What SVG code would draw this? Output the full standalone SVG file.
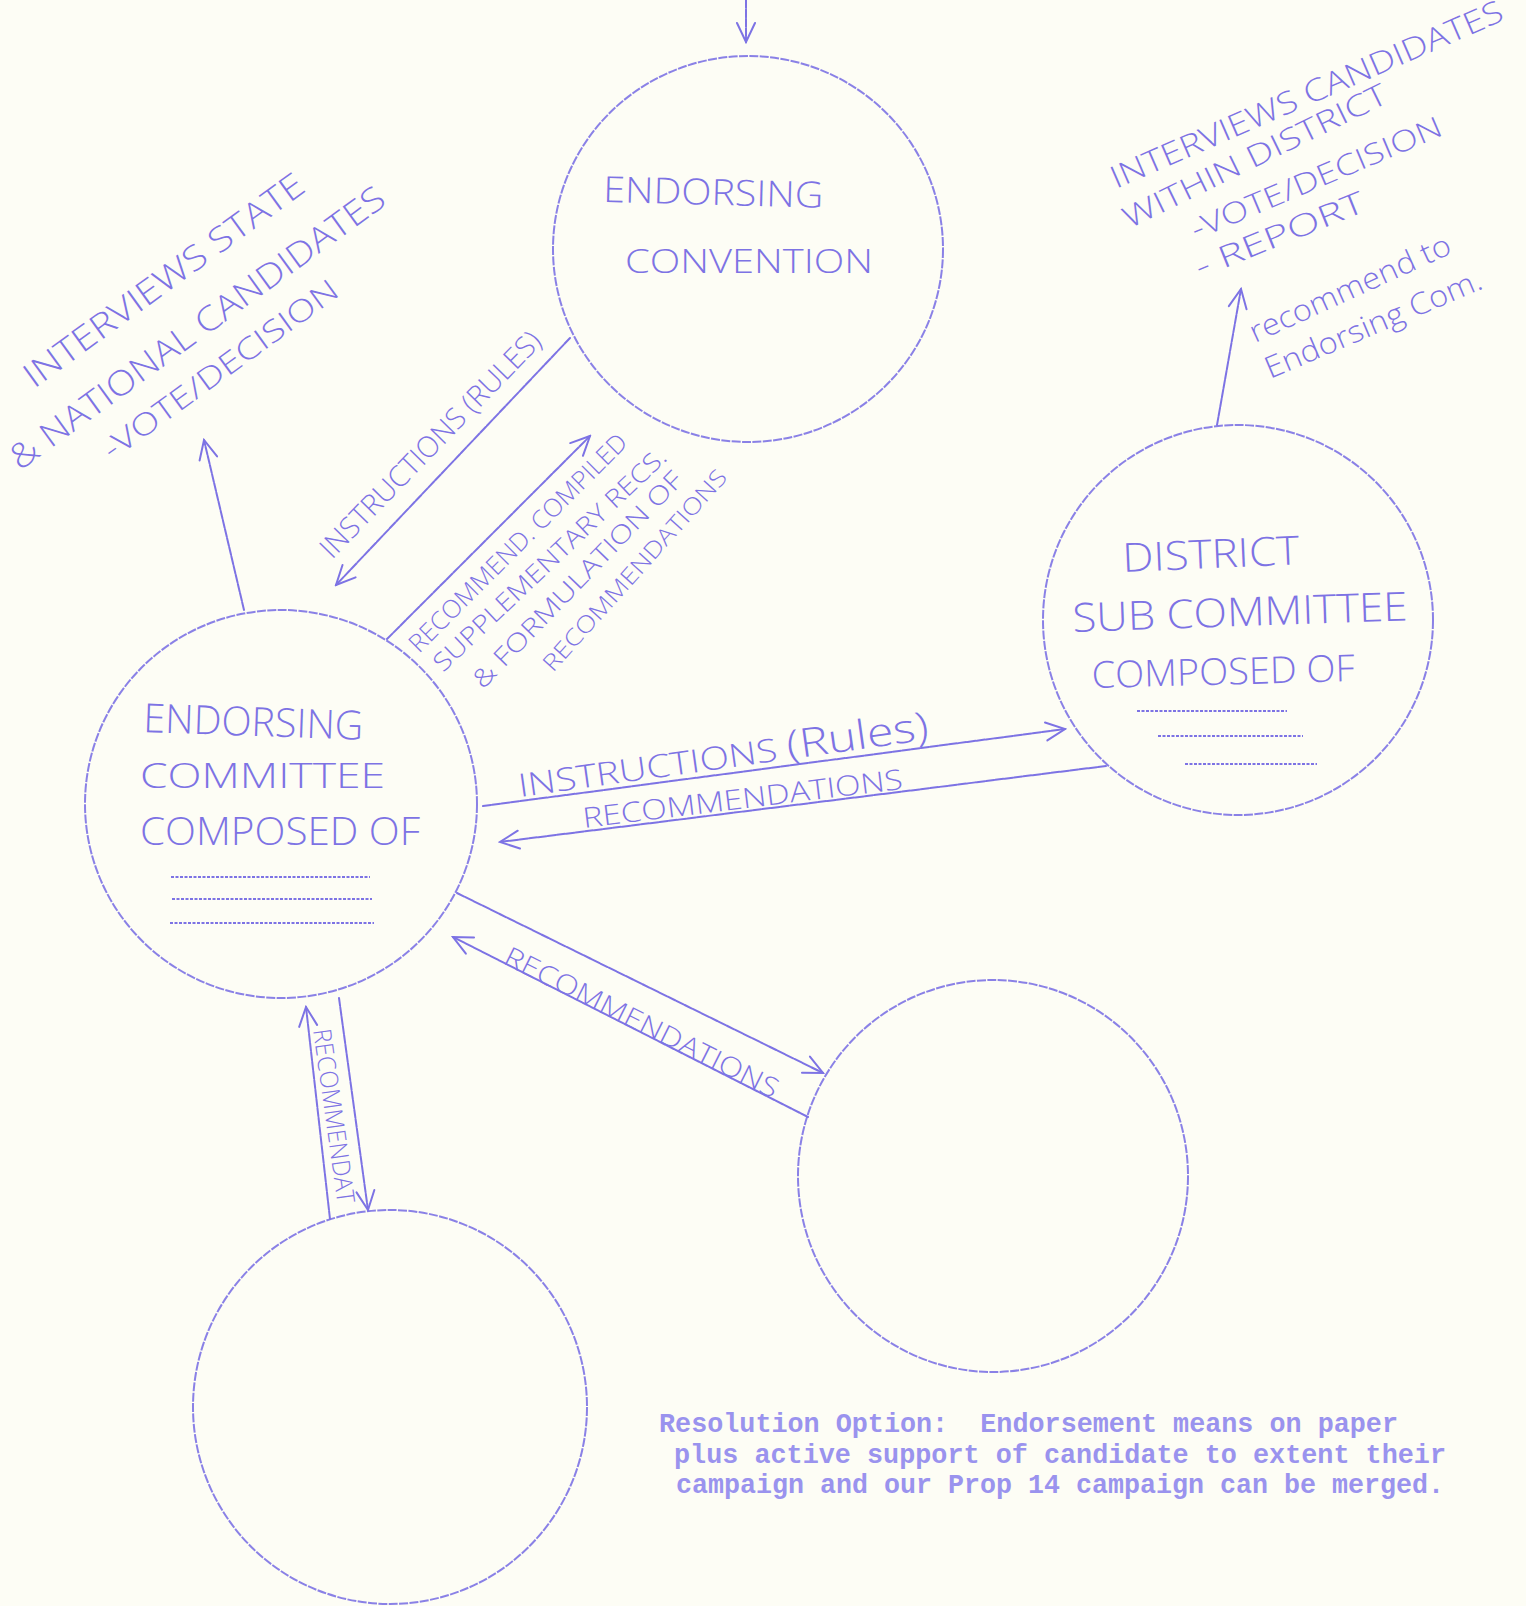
<svg xmlns="http://www.w3.org/2000/svg" width="1526" height="1606" viewBox="0 0 1526 1606">
<style>
.bg{fill:#fdfdf5}
.ink{fill:none;stroke:#7d73e4;stroke-width:2;stroke-linecap:round;stroke-dasharray:8 1.4}
.circ{fill:none;stroke:#7d73e4;stroke-width:2;stroke-dasharray:9 1.4;opacity:.9}
.hw{fill:#7d73e4;font-family:"Open Sans","DejaVu Sans",sans-serif;font-weight:300}
.rule{fill:none;stroke:#7d73e4;stroke-width:2.2;stroke-dasharray:3 1.5}
.typed{fill:#9a93ee;font-family:"Liberation Mono","DejaVu Sans Mono",monospace;font-size:26.8px;font-weight:bold;white-space:pre}
</style>
<defs>
<marker id="v" viewBox="0 0 24 24" refX="22" refY="12" markerWidth="24" markerHeight="24" markerUnits="userSpaceOnUse" orient="auto">
<path d="M3,3 L22,12 L3,21" fill="none" stroke="#7d73e4" stroke-width="2" stroke-linecap="round"/>
</marker>
</defs>
<rect class="bg" x="0" y="0" width="1526" height="1606"/>

<g id="node-endorsing-convention">
<ellipse class="circ" cx="748" cy="249" rx="195" ry="193"/>
<text class="hw" font-size="36" transform="translate(603,202) rotate(1.5)" textLength="220" lengthAdjust="spacingAndGlyphs">ENDORSING</text>
<text class="hw" font-size="33" x="625" y="273" textLength="248" lengthAdjust="spacingAndGlyphs">CONVENTION</text>
</g>

<g id="node-endorsing-committee">
<ellipse class="circ" cx="281" cy="804" rx="196" ry="194"/>
<text class="hw" font-size="40" transform="translate(143,732) rotate(2)" textLength="220" lengthAdjust="spacingAndGlyphs">ENDORSING</text>
<text class="hw" font-size="35" x="140" y="788" textLength="245" lengthAdjust="spacingAndGlyphs">COMMITTEE</text>
<text class="hw" font-size="38" x="140" y="845" textLength="280" lengthAdjust="spacingAndGlyphs">COMPOSED OF</text>
<line class="rule" x1="171" y1="877" x2="370" y2="877"/>
<line class="rule" x1="172" y1="899" x2="372" y2="899"/>
<line class="rule" x1="170" y1="923" x2="374" y2="923"/>
</g>

<g id="node-district-sub-committee">
<ellipse class="circ" cx="1238" cy="620" rx="195" ry="195"/>
<text class="hw" font-size="40" transform="translate(1123,572) rotate(-2.5)" textLength="177" lengthAdjust="spacingAndGlyphs">DISTRICT</text>
<text class="hw" font-size="40" transform="translate(1073,632) rotate(-2)" textLength="335" lengthAdjust="spacingAndGlyphs">SUB COMMITTEE</text>
<text class="hw" font-size="37" transform="translate(1092,688) rotate(-1.5)" textLength="263" lengthAdjust="spacingAndGlyphs">COMPOSED OF</text>
<line class="rule" x1="1137" y1="711" x2="1287" y2="711"/>
<line class="rule" x1="1158" y1="736" x2="1303" y2="736"/>
<line class="rule" x1="1185" y1="764" x2="1317" y2="764"/>
</g>

<g id="node-bottom-right">
<ellipse class="circ" cx="993" cy="1176" rx="195" ry="196"/>
</g>

<g id="node-bottom-left">
<ellipse class="circ" cx="390" cy="1407" rx="197" ry="197"/>
</g>

<g id="connectors">
<line class="ink" x1="746" y1="0" x2="746" y2="42" marker-end="url(#v)"/>
<line class="ink" x1="244" y1="610" x2="204" y2="440" marker-end="url(#v)"/>
<line class="ink" x1="1217" y1="425" x2="1241" y2="289" marker-end="url(#v)"/>
<line class="ink" x1="570" y1="338" x2="336" y2="585" marker-end="url(#v)"/>
<line class="ink" x1="387" y1="639" x2="590" y2="436" marker-end="url(#v)"/>
<line class="ink" x1="483" y1="806" x2="1065" y2="729" marker-end="url(#v)"/>
<line class="ink" x1="1106" y1="766" x2="500" y2="842" marker-end="url(#v)"/>
<line class="ink" x1="457" y1="893" x2="823" y2="1073" marker-end="url(#v)"/>
<line class="ink" x1="808" y1="1117" x2="453" y2="937" marker-end="url(#v)"/>
<line class="ink" x1="330" y1="1219" x2="306" y2="1007" marker-end="url(#v)"/>
<line class="ink" x1="339" y1="998" x2="368" y2="1210" marker-end="url(#v)"/>

<text class="hw" font-size="29" transform="translate(332,560) rotate(-45.8)" textLength="303" lengthAdjust="spacingAndGlyphs">INSTRUCTIONS (RULES)</text>
<text class="hw" font-size="25" transform="translate(419,654) rotate(-45)" textLength="297" lengthAdjust="spacingAndGlyphs">RECOMMEND. COMPILED</text>
<text class="hw" font-size="25" transform="translate(443,673) rotate(-43.5)" textLength="311" lengthAdjust="spacingAndGlyphs">SUPPLEMENTARY RECS.</text>
<text class="hw" font-size="25" transform="translate(483,690) rotate(-46)" textLength="290" lengthAdjust="spacingAndGlyphs">&amp; FORMULATION OF</text>
<text class="hw" font-size="23" transform="translate(553,673) rotate(-48)" textLength="262" lengthAdjust="spacingAndGlyphs">RECOMMENDATIONS</text>
<text class="hw" font-size="32" transform="translate(520,797) rotate(-8)" textLength="414" lengthAdjust="spacingAndGlyphs">INSTRUCTIONS <tspan font-size="40">(Rules)</tspan></text>
<text class="hw" font-size="28" transform="translate(584,828) rotate(-7)" textLength="322" lengthAdjust="spacingAndGlyphs">RECOMMENDATIONS</text>
<text class="hw" font-size="27" transform="translate(502,963) rotate(26.6)" textLength="303" lengthAdjust="spacingAndGlyphs">RECOMMENDATIONS</text>
<text class="hw" font-size="25" transform="translate(313,1030) rotate(82)" textLength="176" lengthAdjust="spacingAndGlyphs">RECOMMENDAT</text>
</g>

<g id="note-state-national">
<text class="hw" font-size="34" transform="translate(34,389) rotate(-36)" textLength="338" lengthAdjust="spacingAndGlyphs">INTERVIEWS STATE</text>
<text class="hw" font-size="34" transform="translate(20,471) rotate(-36)" textLength="455" lengthAdjust="spacingAndGlyphs">&amp; NATIONAL CANDIDATES</text>
<text class="hw" font-size="30" transform="translate(112,461) rotate(-36)" textLength="283" lengthAdjust="spacingAndGlyphs">-VOTE/DECISION</text>
</g>

<g id="note-district">
<text class="hw" font-size="31" transform="translate(1116,189) rotate(-23.5)" textLength="425" lengthAdjust="spacingAndGlyphs">INTERVIEWS CANDIDATES</text>
<text class="hw" font-size="30" transform="translate(1129,229) rotate(-26)" textLength="290" lengthAdjust="spacingAndGlyphs">WITHIN DISTRICT</text>
<text class="hw" font-size="29" transform="translate(1196,240) rotate(-23)" textLength="270" lengthAdjust="spacingAndGlyphs">-VOTE/DECISION</text>
<text class="hw" font-size="30" transform="translate(1200,278) rotate(-22)" textLength="180" lengthAdjust="spacingAndGlyphs">- REPORT</text>
<text class="hw" font-size="30" transform="translate(1255,343) rotate(-24.5)" textLength="218" lengthAdjust="spacingAndGlyphs">recommend to</text>
<text class="hw" font-size="30" transform="translate(1270,379) rotate(-23)" textLength="233" lengthAdjust="spacingAndGlyphs">Endorsing Com.</text>
</g>

<g id="note-resolution">
<text class="typed" x="659" y="1432" textLength="739" lengthAdjust="spacingAndGlyphs">Resolution Option:  Endorsement means on paper</text>
<text class="typed" x="674" y="1463" textLength="772" lengthAdjust="spacingAndGlyphs">plus active support of candidate to extent their</text>
<text class="typed" x="676" y="1493" textLength="768" lengthAdjust="spacingAndGlyphs">campaign and our Prop 14 campaign can be merged.</text>
</g>
</svg>
